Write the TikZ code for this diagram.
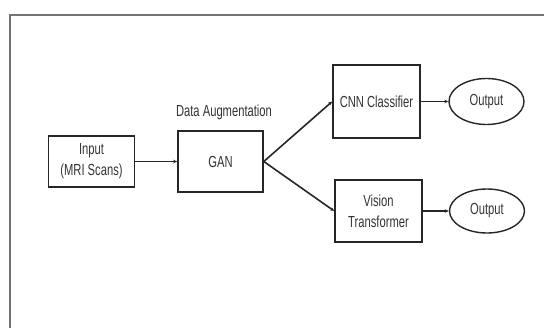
\documentclass[tikz,border=0pt]{standalone}
\usepackage{fontspec}
\setmainfont[FakeStretch=0.7]{Liberation Sans}
\usetikzlibrary{arrows.meta,shapes.geometric}
\begin{document}
\begin{tikzpicture}[x=1pt,y=-1pt,
  every node/.style={font=\fontsize{16}{21}\selectfont, text=black!80},
  blk/.style={draw=black!85, line width=1.6pt, minimum width=#1, inner sep=0pt, align=center},
  outp/.style={draw=black!85, line width=1.4pt, ellipse, inner sep=0pt, minimum width=75pt, minimum height=46pt},
  conn/.style={draw=black!85, line width=1.6pt, -{Stealth[length=4pt,width=3.5pt]}}
]
\useasboundingbox (0,0) rectangle (544,327);
\draw[black!55, line width=2pt] (10,330) -- (10,14.5) -- (550,14.5);
\node[blk=86pt, minimum height=51.5pt] (in) at (91.5,161.5) {Input\\(MRI Scans)};
\node[blk=85pt, minimum height=60.5pt] (gan) at (220.5,161.5) {GAN};
\node (lab) at (224,112) {Data Augmentation};
\node[blk=87pt, minimum height=73pt] (cnn) at (376.5,101.5) {CNN Classifier};
\node[blk=87pt, minimum height=61.5pt] (vt) at (378.5,211) {Vision\\Transformer};
\node[outp] (o1) at (486.5,101.5) {Output};
\node[outp, minimum height=44pt] (o2) at (487,211) {Output};
\draw[conn] (in) -- (gan);
\draw[conn] (gan.east) -- (cnn.west);
\draw[conn] (gan.east) -- (vt.west);
\draw[conn] (cnn) -- (o1);
\draw[conn] (vt) -- (o2);
\end{tikzpicture}
\end{document}
